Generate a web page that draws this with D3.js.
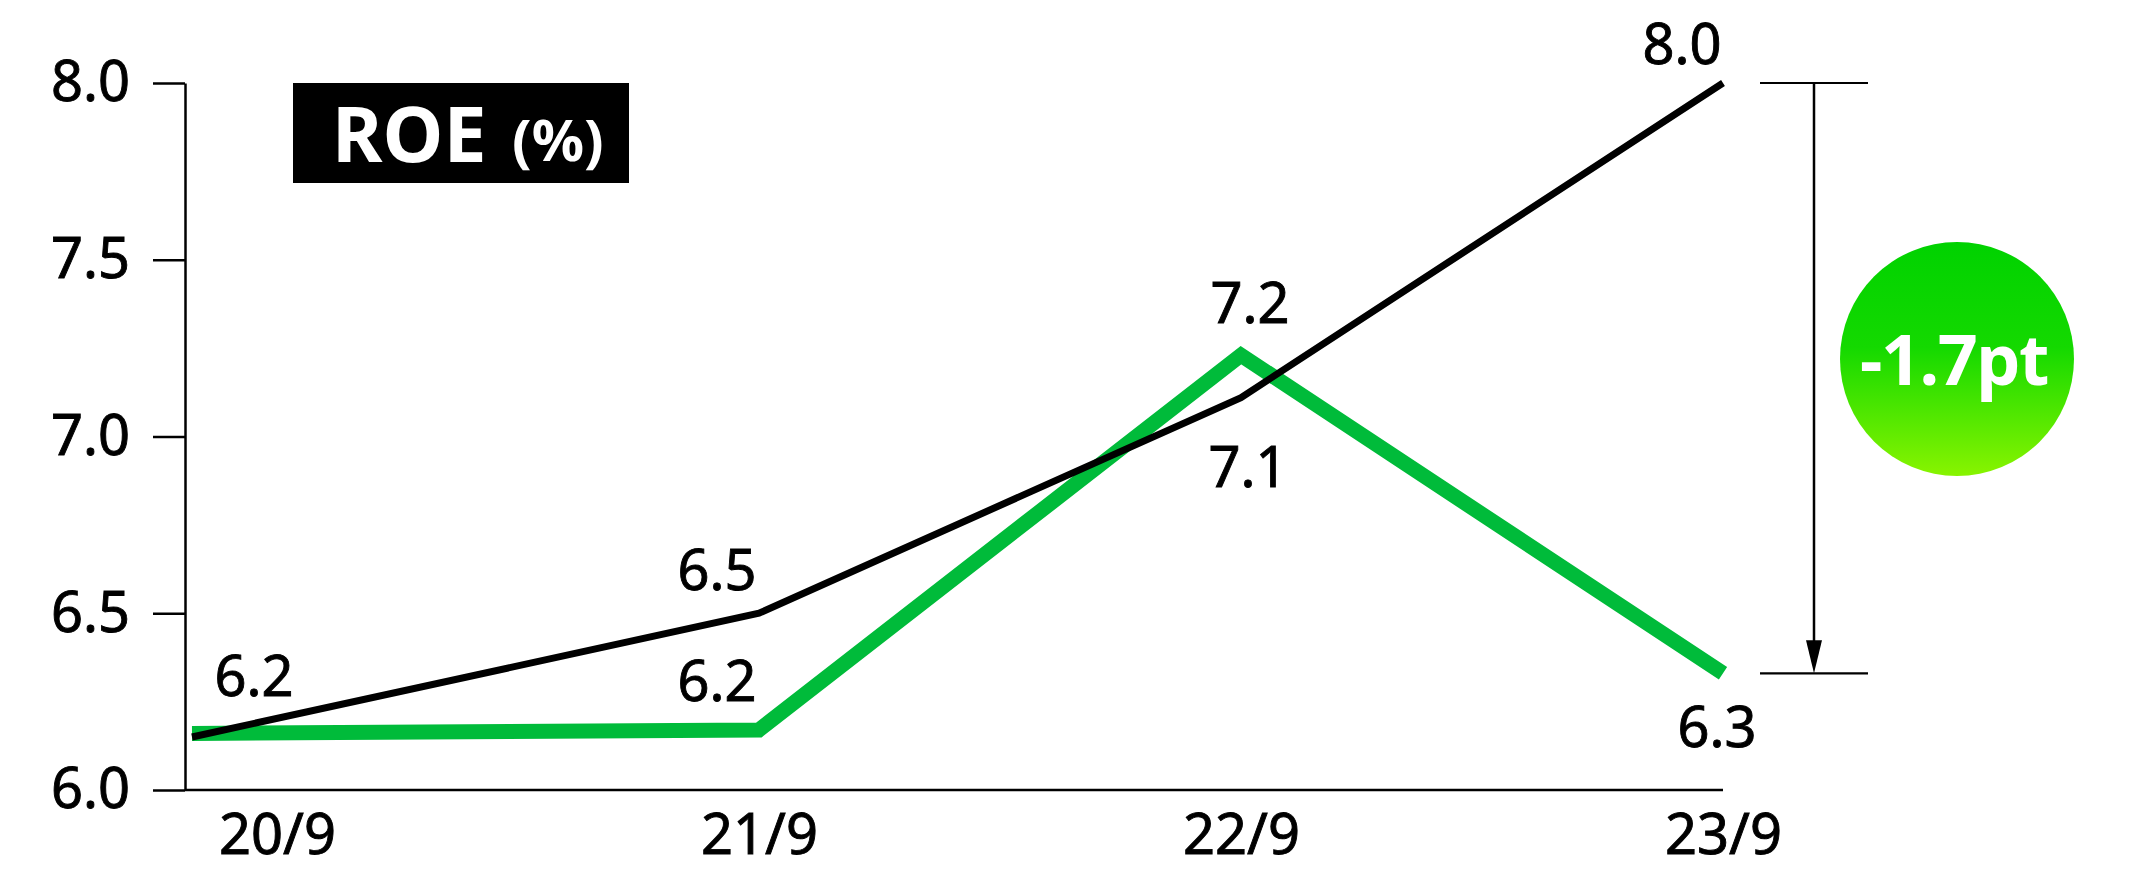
<!DOCTYPE html>
<html>
<head>
<meta charset="utf-8">
<script src="https://cdn.jsdelivr.net/npm/d3@7"></script>
<style>
  html, body { margin: 0; padding: 0; background: #fff; }
  svg { display: block; font-family: "Noto Sans", "Open Sans", sans-serif; }
</style>
</head>
<body>
<svg id="chart" width="2131" height="870"></svg>
<script>
// Fiscal periods (year/month of fiscal year end)
const categories = ["20/9", "21/9", "22/9", "23/9"];
// ROE (%) – company
const roeCompany = [6.16, 6.17, 7.23, 6.33];
// ROE (%) – benchmark
const roeBenchmark = [6.15, 6.50, 7.11, 8.00];
// Y axis ticks
const yTicks = [6.0, 6.5, 7.0, 7.5, 8.0];
const chartTitle = "ROE";
const chartUnit = "(%)";
const diffUnit = "pt";

// Label placement relative to each point [dx, dy]
const companyLabelOffsets = [null, [-42, -29], [9, -32], [-6, 74]];
const benchmarkLabelOffsets = [[-23, -41], [-42, -23], [7, 89], [-41, -19]];

const axisX = 185;
const svg = d3.select("#chart");

const x = d3.scalePoint().domain(categories).range([277, 1723]);
const y = d3.scaleLinear().domain([6, 8]).range([790, 83]);

const fmt = d3.format(".1f");
// plain hyphen for negative numbers
const fmtSigned = v => fmt(v).replace("\u2212", "-");
const FONT = 56;

// slightly heavier body text
function textStyle(sel) {
  sel.attr("font-size", FONT)
    .attr("fill", "#000")
    .attr("stroke", "#000")
    .attr("stroke-width", 0.9)
    .attr("font-family", "'Noto Sans', sans-serif");
}

// Y axis
const yAxis = d3.axisLeft(y)
  .tickValues(yTicks)
  .tickFormat(fmt)
  .tickSize(32)
  .tickSizeOuter(0)
  .tickPadding(23);

const gy = svg.append("g")
  .attr("transform", `translate(${axisX},0)`)
  .call(yAxis);
gy.select(".domain").attr("stroke", "#000").attr("stroke-width", 2.5);
gy.selectAll(".tick line").attr("stroke", "#000").attr("stroke-width", 2.5);
gy.selectAll(".tick text").call(textStyle);

// X axis baseline
svg.append("line")
  .attr("x1", axisX).attr("x2", x(categories[categories.length - 1]))
  .attr("y1", y(6)).attr("y2", y(6))
  .attr("stroke", "#000").attr("stroke-width", 2.5);

// X axis labels
const xAxis = d3.axisBottom(x).tickSize(0).tickPadding(24);
const gx = svg.append("g")
  .attr("transform", `translate(0,${y(6)})`)
  .call(xAxis);
gx.select(".domain").remove();
gx.selectAll(".tick text").call(textStyle);

// Lines start at the y axis for the first period
const px = (i) => i === 0 ? axisX + 7 : x(categories[i]);
const line = d3.line()
  .x((d, i) => px(i))
  .y(d => y(d));

svg.append("path")
  .datum(roeCompany)
  .attr("d", line)
  .attr("fill", "none")
  .attr("stroke", "#00BB3A")
  .attr("stroke-width", 15)
  .attr("stroke-linejoin", "miter")
  .attr("stroke-linecap", "butt");

svg.append("path")
  .datum(roeBenchmark)
  .attr("d", line)
  .attr("fill", "none")
  .attr("stroke", "#000")
  .attr("stroke-width", 7)
  .attr("stroke-linejoin", "miter")
  .attr("stroke-linecap", "butt");

// Value labels
function addLabels(values, offsets) {
  values.forEach((v, i) => {
    const off = offsets[i];
    if (!off) return;
    svg.append("text")
      .attr("x", x(categories[i]) + off[0])
      .attr("y", y(v) + off[1])
      .attr("text-anchor", "middle")
      .call(textStyle)
      .text(fmt(v));
  });
}
addLabels(roeCompany, companyLabelOffsets);
addLabels(roeBenchmark, benchmarkLabelOffsets);

// Title box
svg.append("rect")
  .attr("x", 293).attr("y", 83)
  .attr("width", 336).attr("height", 100)
  .attr("fill", "#000");
const title = svg.append("text")
  .attr("y", 162)
  .attr("fill", "#fff")
  .attr("font-weight", "bold");
title.append("tspan").attr("x", 332).attr("font-size", 77).text(chartTitle);
title.append("tspan").attr("x", 512).attr("font-size", 58).attr("dy", -1).text(chartUnit);

// Difference bracket
const last = categories.length - 1;
const yTop = y(roeBenchmark[last]);
const yBot = y(roeCompany[last]);
const bx = 1814, bx1 = 1760, bx2 = 1868;
[yTop, yBot].forEach(yy => {
  svg.append("line")
    .attr("x1", bx1).attr("x2", bx2)
    .attr("y1", yy).attr("y2", yy)
    .attr("stroke", "#000").attr("stroke-width", 2.2);
});
svg.append("line")
  .attr("x1", bx).attr("x2", bx)
  .attr("y1", yTop).attr("y2", yBot - 20)
  .attr("stroke", "#000").attr("stroke-width", 2.5);
svg.append("path")
  .attr("d", `M${bx - 8},${yBot - 33} L${bx + 8},${yBot - 33} L${bx},${yBot} Z`)
  .attr("fill", "#000");

// Difference badge
const defs = svg.append("defs");
const grad = defs.append("linearGradient")
  .attr("id", "badgeGrad")
  .attr("x1", 0).attr("y1", 0).attr("x2", 0).attr("y2", 1);
grad.append("stop").attr("offset", "0%").attr("stop-color", "#00D200");
grad.append("stop").attr("offset", "45%").attr("stop-color", "#14D900");
grad.append("stop").attr("offset", "100%").attr("stop-color", "#88F400");

const cx = 1957, cy = 359, r = 117;
svg.append("circle")
  .attr("cx", cx).attr("cy", cy).attr("r", r)
  .attr("fill", "url(#badgeGrad)");

const diff = roeCompany[last] - roeBenchmark[last];
svg.append("text")
  .attr("x", cx - 3).attr("y", 385)
  .attr("text-anchor", "middle")
  .attr("font-size", 70)
  .attr("font-weight", "bold")
  .attr("letter-spacing", -1.5)
  .attr("fill", "#fff")
  .text(fmtSigned(diff) + diffUnit);
</script>
</body>
</html>
